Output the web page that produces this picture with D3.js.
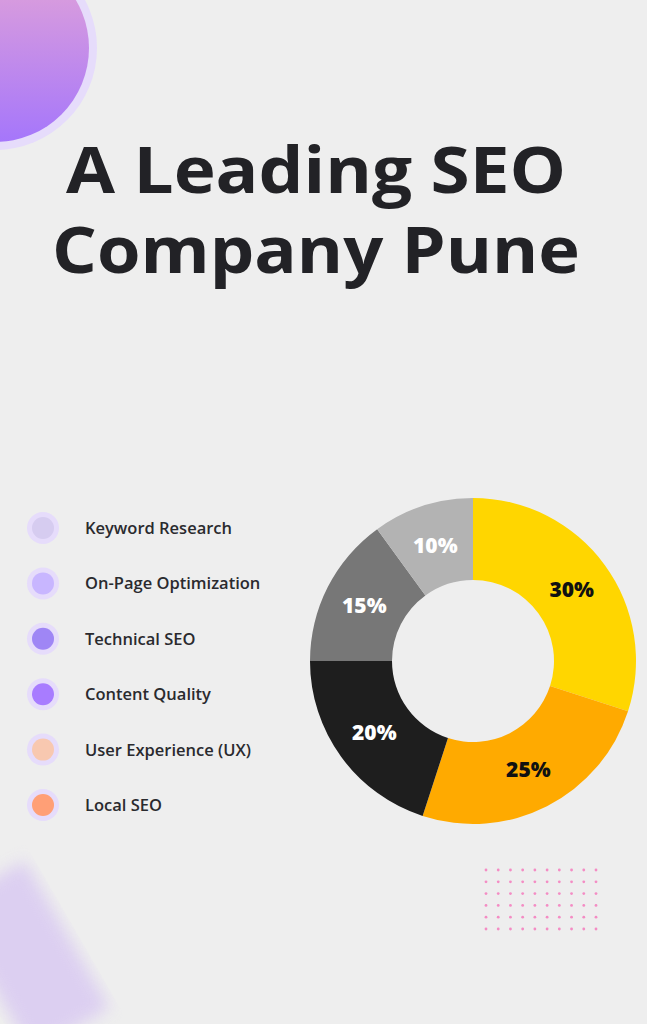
<!DOCTYPE html>
<html><head><meta charset="utf-8">
<script src="https://cdn.jsdelivr.net/npm/d3@7"></script>
<style>body{margin:0;background:#eeeeee}svg{display:block}</style>
</head><body><svg id="c" width="647" height="1024"></svg>
<script>
const legendLabels=["Keyword Research","On-Page Optimization","Technical SEO","Content Quality","User Experience (UX)","Local SEO"];
const legendColors=["#d6ccf0","#c8b6ff","#9f86f5","#a87cff","#f8c8b0","#ff9f76"];
const sliceLabels=["30%","25%","20%","15%","10%"];
const sliceValues=[30,25,20,15,10];
const sliceColors=["#ffd600","#ffaa00","#1e1e1e","#777777","#b3b3b3"];
const sliceText=["#111","#111","#fff","#fff","#fff"];
const titleLines=["A Leading SEO","Company Pune"];

const svg=d3.select("#c");
const defs=svg.append("defs");
const g1=defs.append("linearGradient").attr("id","gr").attr("x1",0).attr("y1",0).attr("x2",0).attr("y2",1);
g1.append("stop").attr("offset","0%").attr("stop-color","#e6a6d6");
g1.append("stop").attr("offset","100%").attr("stop-color","#a576fb");
defs.append("filter").attr("id","bl").append("feGaussianBlur").attr("stdDeviation",8);

svg.append("circle").attr("cx",-5).attr("cy",48).attr("r",102).attr("fill","#e6dcfb");
svg.append("circle").attr("cx",-5).attr("cy",48).attr("r",94).attr("fill","url(#gr)");

svg.append("rect").attr("x",-20).attr("y",870).attr("width",90).attr("height",170)
  .attr("transform","rotate(-30 30 950)").attr("fill","#d8c8f2").attr("opacity",0.8).attr("filter","url(#bl)");

const tw=[500,528];
svg.selectAll("text.t").data(titleLines).join("text").attr("class","t")
  .attr("x",316).attr("y",(d,i)=>193+i*80).attr("text-anchor","middle")
  .attr("font-family","'Open Sans', sans-serif").attr("font-weight",700).attr("font-size",64)
  .attr("textLength",(d,i)=>tw[i]).attr("lengthAdjust","spacingAndGlyphs")
  .attr("fill","#222226").text(d=>d);

const ly=d3.scaleLinear().domain([0,5]).range([528,805]);
const lg=svg.selectAll("g.l").data(legendLabels).join("g").attr("transform",(d,i)=>`translate(43,${ly(i)})`);
lg.append("circle").attr("r",16).attr("fill","#e6dcfb");
lg.append("circle").attr("r",11).attr("fill",(d,i)=>legendColors[i]);
lg.append("text").attr("x",42).attr("y",6).attr("font-family","'Open Sans', sans-serif").attr("font-weight",600)
  .attr("font-size",16.5).attr("fill","#2a2a2e").text(d=>d);

const pie=d3.pie().sort(null)(sliceValues);
const arc=d3.arc().innerRadius(81).outerRadius(163);
const la=d3.arc().innerRadius(122).outerRadius(122);
const pg=svg.append("g").attr("transform","translate(473,661)");
pg.selectAll("path").data(pie).join("path").attr("d",arc).attr("fill",(d,i)=>sliceColors[i]);
pg.selectAll("text").data(pie).join("text").attr("transform",d=>`translate(${la.centroid(d)})`)
  .attr("text-anchor","middle").attr("dy","0.36em").attr("font-family","'Open Sans', sans-serif").attr("font-weight",800)
  .attr("font-size",21).attr("fill",(d,i)=>sliceText[i]).text((d,i)=>sliceLabels[i]);

const dx=d3.range(10), dy=d3.range(6);
const sx=d3.scaleLinear().domain([0,9]).range([486,596]);
const sy=d3.scaleLinear().domain([0,5]).range([870,929]);
svg.append("g").selectAll("circle").data(d3.cross(dx,dy)).join("circle")
  .attr("cx",d=>sx(d[0])).attr("cy",d=>sy(d[1])).attr("r",1.4).attr("fill","#f48cc4");
</script></body></html>
